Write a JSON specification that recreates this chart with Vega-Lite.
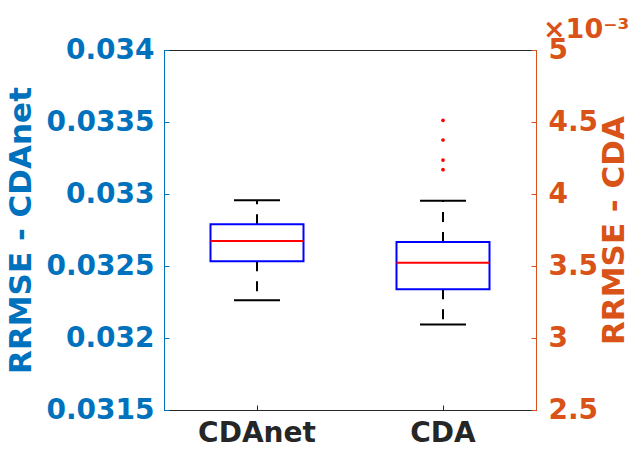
{
  "$schema": "https://vega.github.io/schema/vega-lite/v6.json",
  "width": 372,
  "height": 360,
  "autosize": "none",
  "padding": {"left": 164, "top": 50, "right": 94, "bottom": 40},
  "background": "white",
  "config": {
    "view": {"stroke": "#262626", "strokeWidth": 1},
    "font": "DejaVu Sans",
    "tick": {"opacity": 1},
    "axis": {"grid": false, "labelFont": "DejaVu Sans", "labelFontWeight": "bold", "labelFontSize": 28, "titleFont": "DejaVu Sans", "titleFontWeight": "bold", "titleFontSize": 31, "tickSize": -5, "tickWidth": 1, "domainWidth": 1},
    "axisX": {"labelColor": "#262626", "domainColor": "#262626", "tickColor": "#262626", "labelPadding": 14, "labelAngle": 0, "title": null},
    "axisLeft": {"labelColor": "#0072BD", "domainColor": "#0072BD", "tickColor": "#0072BD", "titleColor": "#0072BD", "labelPadding": 15, "titlePadding": 8},
    "axisRight": {"labelColor": "#D95319", "domainColor": "#D95319", "tickColor": "#D95319", "titleColor": "#D95319", "labelPadding": 17, "titlePadding": 2, "titleAngle": 270, "titleBaseline": "top"}
  },
  "title": {"text": "×10⁻³", "anchor": "start", "frame": "group", "dx": 379, "fontSize": 27, "color": "#D95319", "font": "DejaVu Sans", "fontWeight": "bold", "offset": -8},
  "datasets": {
    "cdanet": [{"method": "CDAnet", "lower": 0.032262, "q1": 0.032533, "median": 0.032674, "q3": 0.03279, "upper": 0.032956}],
    "cda": [{"method": "CDA", "lower": 0.003093, "q1": 0.003338, "median": 0.003523, "q3": 0.003667, "upper": 0.003953}],
    "cdaOut": [
      {"method": "CDA", "value": 0.004512},
      {"method": "CDA", "value": 0.004375},
      {"method": "CDA", "value": 0.004236},
      {"method": "CDA", "value": 0.004169}
    ]
  },
  "encoding": {
    "x": {"field": "method", "type": "nominal", "scale": {"domain": ["CDAnet", "CDA"], "paddingInner": 0, "paddingOuter": 0}, "axis": {"orient": "bottom"}}
  },
  "layer": [
    {
      "data": {"name": "cdanet"},
      "layer": [
        {"mark": {"type": "rule", "color": "black", "strokeWidth": 2, "strokeDash": [10, 10]},
         "encoding": {"y": {"field": "q3", "type": "quantitative", "title": "RRMSE - CDAnet", "scale": {"domain": [0.0315, 0.034], "nice": false, "zero": false}, "axis": {"orient": "left", "values": [0.0315, 0.032, 0.0325, 0.033, 0.0335, 0.034], "format": ".4~f"}}, "y2": {"field": "upper"}}},
        {"mark": {"type": "rule", "color": "black", "strokeWidth": 2, "strokeDash": [10, 10]},
         "encoding": {"y": {"field": "q1", "type": "quantitative", "title": "RRMSE - CDAnet", "scale": {"domain": [0.0315, 0.034], "nice": false, "zero": false}, "axis": {"orient": "left", "values": [0.0315, 0.032, 0.0325, 0.033, 0.0335, 0.034], "format": ".4~f"}}, "y2": {"field": "lower"}}},
        {"mark": {"type": "tick", "color": "black", "thickness": 2, "size": 46},
         "encoding": {"y": {"field": "upper", "type": "quantitative", "title": "RRMSE - CDAnet", "scale": {"domain": [0.0315, 0.034], "nice": false, "zero": false}, "axis": {"orient": "left", "values": [0.0315, 0.032, 0.0325, 0.033, 0.0335, 0.034], "format": ".4~f"}}}},
        {"mark": {"type": "tick", "color": "black", "thickness": 2, "size": 46},
         "encoding": {"y": {"field": "lower", "type": "quantitative", "title": "RRMSE - CDAnet", "scale": {"domain": [0.0315, 0.034], "nice": false, "zero": false}, "axis": {"orient": "left", "values": [0.0315, 0.032, 0.0325, 0.033, 0.0335, 0.034], "format": ".4~f"}}}},
        {"mark": {"type": "bar", "width": {"band": 0.5}, "fill": "white", "fillOpacity": 0, "stroke": "#0000FF", "strokeWidth": 2},
         "encoding": {"y": {"field": "q1", "type": "quantitative", "title": "RRMSE - CDAnet", "scale": {"domain": [0.0315, 0.034], "nice": false, "zero": false}, "axis": {"orient": "left", "values": [0.0315, 0.032, 0.0325, 0.033, 0.0335, 0.034], "format": ".4~f"}}, "y2": {"field": "q3"}}},
        {"mark": {"type": "tick", "color": "#FF0000", "thickness": 2, "size": 93},
         "encoding": {"y": {"field": "median", "type": "quantitative", "title": "RRMSE - CDAnet", "scale": {"domain": [0.0315, 0.034], "nice": false, "zero": false}, "axis": {"orient": "left", "values": [0.0315, 0.032, 0.0325, 0.033, 0.0335, 0.034], "format": ".4~f"}}}}
      ]
    },
    {
      "layer": [
        {"data": {"name": "cda"}, "mark": {"type": "rule", "color": "black", "strokeWidth": 2, "strokeDash": [10, 10]},
         "encoding": {"y": {"field": "q3", "type": "quantitative", "title": "RRMSE - CDA", "scale": {"domain": [0.0025, 0.005], "nice": false, "zero": false}, "axis": {"orient": "right", "values": [0.0025, 0.003, 0.0035, 0.004, 0.0045, 0.005], "labelExpr": "format(datum.value*1000, '~g')"}}, "y2": {"field": "upper"}}},
        {"data": {"name": "cda"}, "mark": {"type": "rule", "color": "black", "strokeWidth": 2, "strokeDash": [10, 10]},
         "encoding": {"y": {"field": "q1", "type": "quantitative", "title": "RRMSE - CDA", "scale": {"domain": [0.0025, 0.005], "nice": false, "zero": false}, "axis": {"orient": "right", "values": [0.0025, 0.003, 0.0035, 0.004, 0.0045, 0.005], "labelExpr": "format(datum.value*1000, '~g')"}}, "y2": {"field": "lower"}}},
        {"data": {"name": "cda"}, "mark": {"type": "tick", "color": "black", "thickness": 2, "size": 46},
         "encoding": {"y": {"field": "upper", "type": "quantitative", "title": "RRMSE - CDA", "scale": {"domain": [0.0025, 0.005], "nice": false, "zero": false}, "axis": {"orient": "right", "values": [0.0025, 0.003, 0.0035, 0.004, 0.0045, 0.005], "labelExpr": "format(datum.value*1000, '~g')"}}}},
        {"data": {"name": "cda"}, "mark": {"type": "tick", "color": "black", "thickness": 2, "size": 46},
         "encoding": {"y": {"field": "lower", "type": "quantitative", "title": "RRMSE - CDA", "scale": {"domain": [0.0025, 0.005], "nice": false, "zero": false}, "axis": {"orient": "right", "values": [0.0025, 0.003, 0.0035, 0.004, 0.0045, 0.005], "labelExpr": "format(datum.value*1000, '~g')"}}}},
        {"data": {"name": "cda"}, "mark": {"type": "bar", "width": {"band": 0.5}, "fill": "white", "fillOpacity": 0, "stroke": "#0000FF", "strokeWidth": 2},
         "encoding": {"y": {"field": "q1", "type": "quantitative", "title": "RRMSE - CDA", "scale": {"domain": [0.0025, 0.005], "nice": false, "zero": false}, "axis": {"orient": "right", "values": [0.0025, 0.003, 0.0035, 0.004, 0.0045, 0.005], "labelExpr": "format(datum.value*1000, '~g')"}}, "y2": {"field": "q3"}}},
        {"data": {"name": "cda"}, "mark": {"type": "tick", "color": "#FF0000", "thickness": 2, "size": 93},
         "encoding": {"y": {"field": "median", "type": "quantitative", "title": "RRMSE - CDA", "scale": {"domain": [0.0025, 0.005], "nice": false, "zero": false}, "axis": {"orient": "right", "values": [0.0025, 0.003, 0.0035, 0.004, 0.0045, 0.005], "labelExpr": "format(datum.value*1000, '~g')"}}}},
        {"data": {"name": "cdaOut"}, "mark": {"type": "point", "filled": true, "color": "#FF0000", "size": 14, "opacity": 1},
         "encoding": {"y": {"field": "value", "type": "quantitative", "title": "RRMSE - CDA", "scale": {"domain": [0.0025, 0.005], "nice": false, "zero": false}, "axis": {"orient": "right", "values": [0.0025, 0.003, 0.0035, 0.004, 0.0045, 0.005], "labelExpr": "format(datum.value*1000, '~g')"}}}}
      ]
    }
  ],
  "resolve": {"scale": {"y": "independent"}}
}
